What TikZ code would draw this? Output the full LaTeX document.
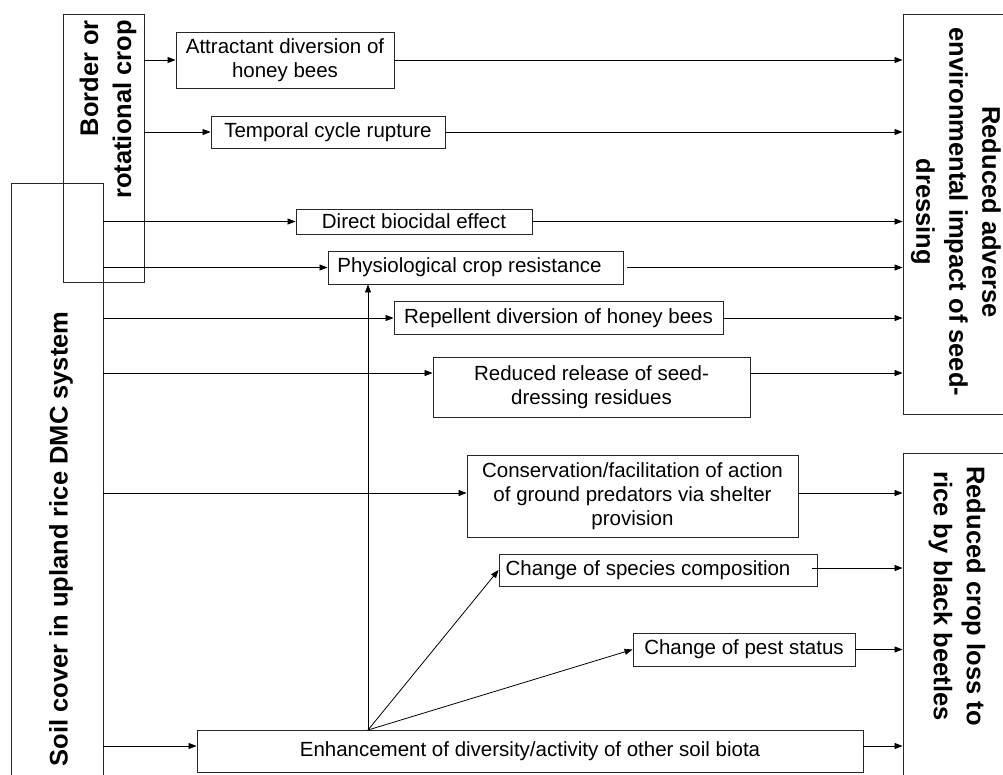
\documentclass[tikz,border=0pt]{standalone}
\usepackage{fontspec}
\setmainfont{Liberation Sans}
\usetikzlibrary{arrows.meta}
\begin{document}
\begin{tikzpicture}[x=1pt,y=-1pt,
  box/.style={draw=black!85, line width=0.9pt, inner sep=0pt, font=\fontsize{20.5}{24}\selectfont, align=center},
  frame/.style={draw=black!85, line width=0.9pt, inner sep=0pt},
  title/.style={inner sep=0pt, font=\fontsize{25.5}{33}\selectfont\bfseries},
  arr/.style={-{Triangle[length=8pt,width=6pt]}, line width=0.8pt},
  ln/.style={line width=0.8pt}]
\clip (0,0) rectangle (1003,774);
\fill[white] (0,0) rectangle (1003,774);
% frames
\node[frame, minimum width=81pt, minimum height=268pt] (border) at (103.5,148) {};
\node[frame, minimum width=92pt, minimum height=637pt] (soil) at (57,501.5) {};
\node[frame, minimum width=117pt, minimum height=400pt] (rb1) at (961.5,214) {};
\node[frame, minimum width=117pt, minimum height=367pt] (rb2) at (961.5,636.5) {};
\node[title, rotate=90, anchor=east, align=right] (bordertext) at (108,20) {Border or\\rotational crop};
\node[title, rotate=90] (soiltext) at (61,539) {Soil cover in upland rice DMC system};
\node[title, rotate=-90, align=center] (rb1text) at (956,212) {Reduced adverse\\environmental impact of seed-\\dressing};
\node[title, rotate=-90, align=center] (rb2text) at (957,596) {Reduced crop loss to\\rice by black beetles};
% boxes
\node[box, minimum width=218pt, minimum height=56pt] (att) at (285,60) {Attractant diversion of\\honey bees};
\node[box, minimum width=234pt, minimum height=32pt] (tem) at (328,132) {Temporal cycle rupture};
\node[box, minimum width=236pt, minimum height=25pt] (dir) at (414,221.5) {Direct biocidal effect};
\node[box, minimum width=295pt, minimum height=33pt] (phy) at (475.5,267.5) {Physiological crop resistance\hspace{12pt}};
\node[box, minimum width=329pt, minimum height=33pt] (rep) at (558.5,318) {Repellent diversion of honey bees};
\node[box, minimum width=317pt, minimum height=60pt] (rel) at (591.5,387) {Reduced release of seed-\\dressing residues};
\node[box, minimum width=331pt, minimum height=82pt] (con) at (632.5,496) {Conservation/facilitation of action\\of ground predators via shelter\\provision};
\node[box, minimum width=318pt, minimum height=32pt] (spe) at (658,570) {Change of species composition\hspace{20pt}};
\node[box, minimum width=222pt, minimum height=33pt] (pes) at (744,649.5) {Change of pest status};
\node[box, minimum width=666pt, minimum height=42pt] (enh) at (530,751) {Enhancement of diversity/activity of other soil biota};
\coordinate (fan) at (368,730);
\coordinate (relin) at ([yshift=14pt]rel.west);
\coordinate (relout) at ([yshift=14pt]rel.east);
\coordinate (conin) at ([yshift=3pt]con.west);
\coordinate (conout) at ([yshift=3pt]con.east);
\coordinate (enhin) at ([yshift=5pt]enh.west);
\coordinate (enhout) at ([yshift=5pt]enh.east);
\coordinate (speout) at ([xshift=-5pt,yshift=2pt]spe.east);
\coordinate (phyout) at ([xshift=4pt]phy.east);
% arrows from border crop
\draw[arr] (border.east |- att.west) -- (att.west);
\draw[arr] (border.east |- tem.west) -- (tem.west);
% arrows from soil cover
\draw[arr] (soil.east |- dir.west) -- (dir.west);
\draw[arr] (soil.east |- phy.west) -- (phy.west);
\draw[arr] (soil.east |- rep.west) -- (rep.west);
\draw[arr] (soil.east |- relin) -- (relin);
\draw[arr] (soil.east |- conin) -- (conin);
\draw[arr] (soil.east |- enhin) -- (enhin);
% fan from enhancement
\draw[arr] (fan) -- (fan |- phy.south);
\draw[arr] (fan) -- (spe.west);
\draw[arr] (fan) -- (pes.west);
% arrows to right boxes
\draw[arr] (att.east) -- (att.east -| rb1.west);
\draw[arr] (tem.east) -- (tem.east -| rb1.west);
\draw[arr] (dir.east) -- (dir.east -| rb1.west);
\draw[arr] (phyout) -- (phyout -| rb1.west);
\draw[arr] (rep.east) -- (rep.east -| rb1.west);
\draw[arr] (relout) -- (relout -| rb1.west);
\draw[arr] (conout) -- (conout -| rb2.west);
\draw[arr] (speout) -- (speout -| rb2.west);
\draw[arr] (pes.east) -- (pes.east -| rb2.west);
\draw[arr] (enhout) -- (enhout -| rb2.west);
\end{tikzpicture}
\end{document}
